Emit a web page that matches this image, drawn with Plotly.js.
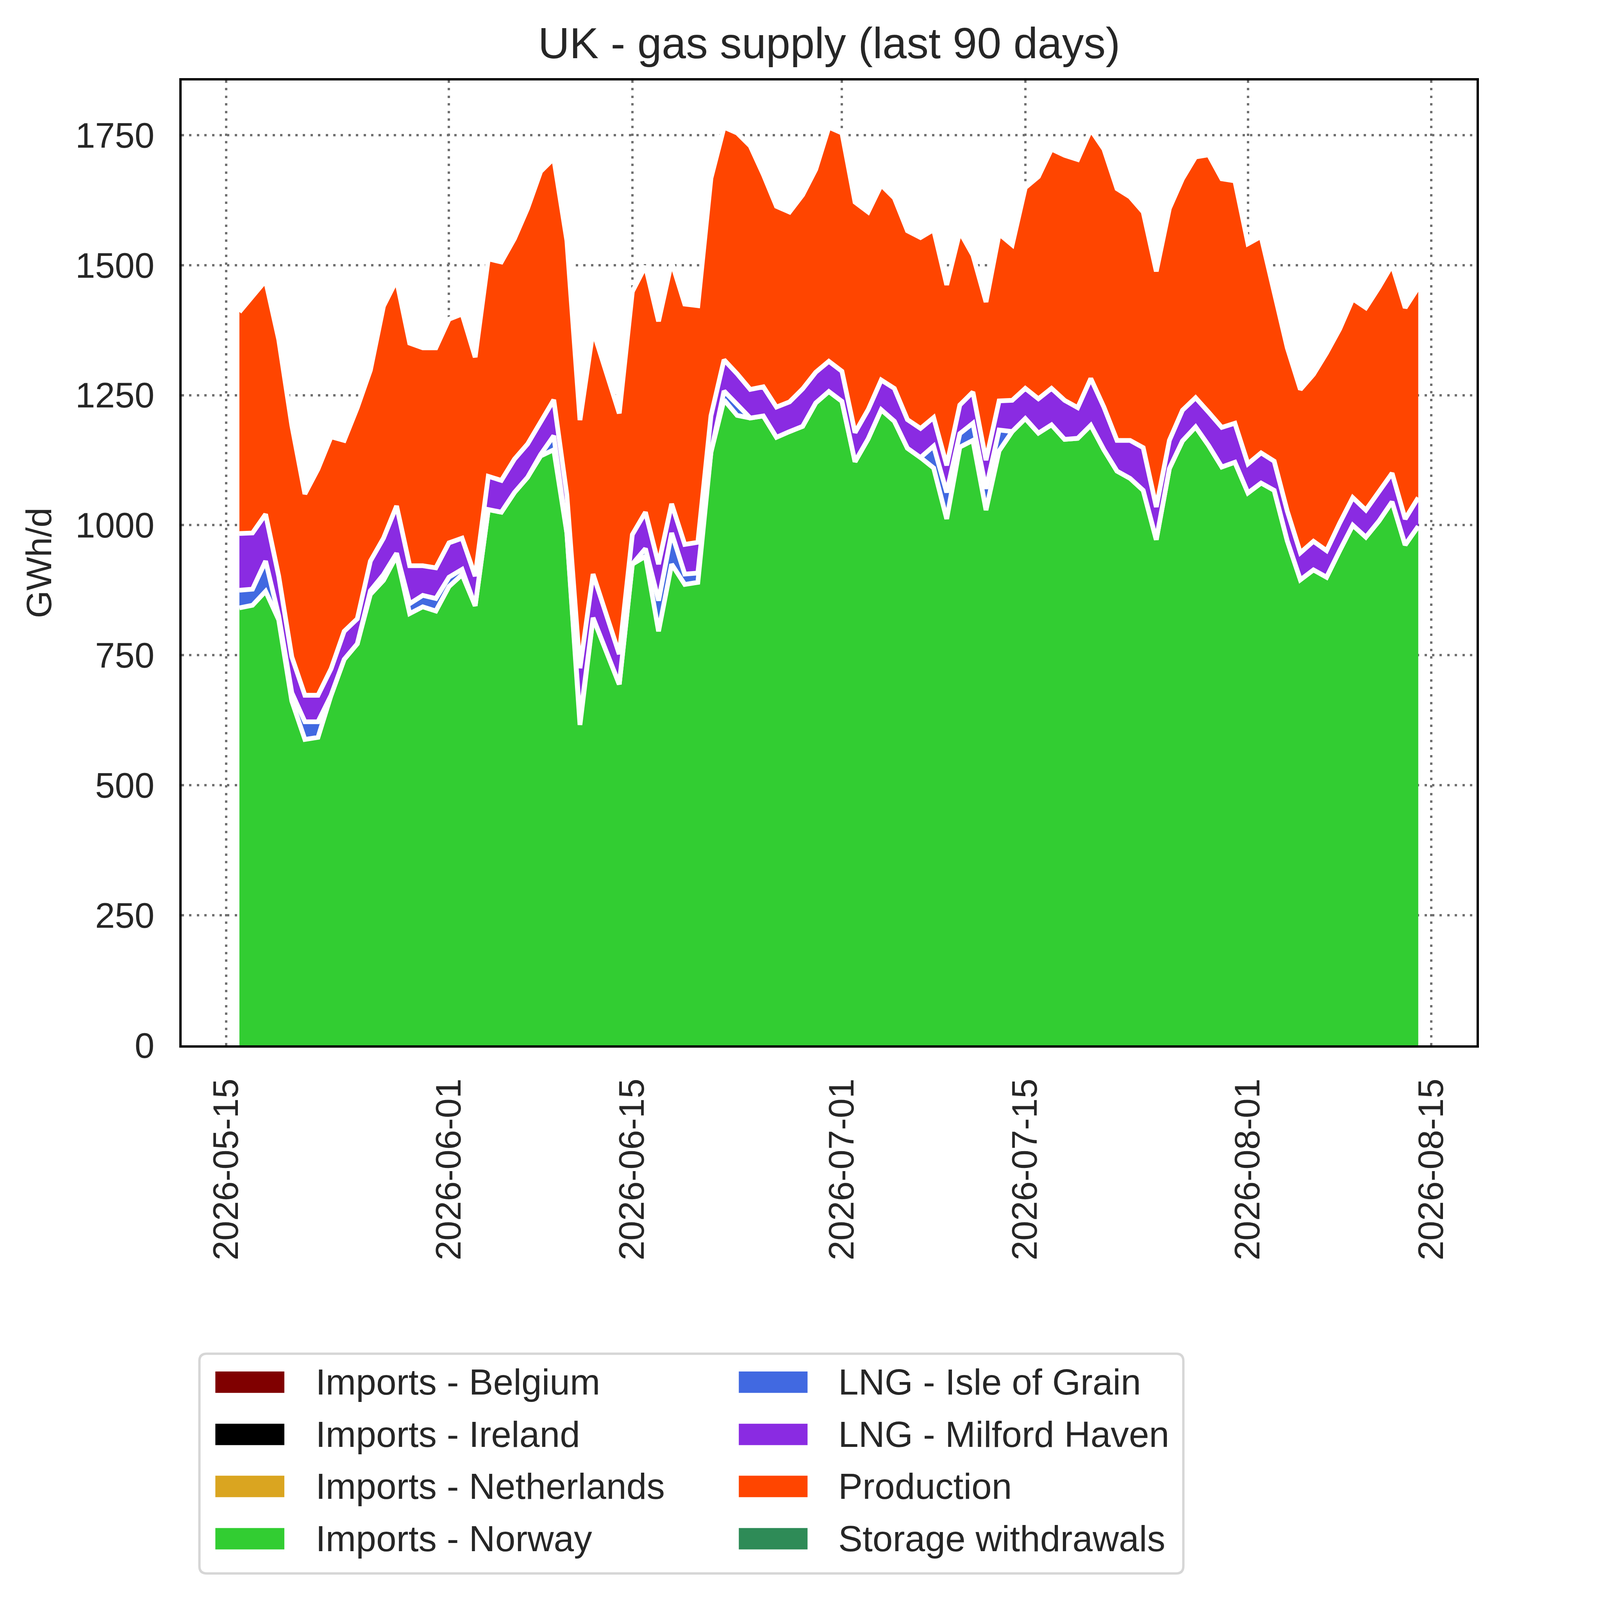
<!DOCTYPE html>
<html>
<head>
<meta charset="utf-8">
<script src="https://cdn.plot.ly/plotly-3.0.1.min.js"></script>
<style>html,body{margin:0;padding:0;background:#fff;overflow:hidden;}</style>
</head>
<body>
<div id="chart"></div>
<script>
// ---------------- data ----------------
const dates = [
 '2026-05-16','2026-05-17','2026-05-18','2026-05-19','2026-05-20','2026-05-21','2026-05-22','2026-05-23','2026-05-24','2026-05-25','2026-05-26','2026-05-27','2026-05-28','2026-05-29','2026-05-30','2026-05-31',
 '2026-06-01','2026-06-02','2026-06-03','2026-06-04','2026-06-05','2026-06-06','2026-06-07','2026-06-08','2026-06-09','2026-06-10','2026-06-11','2026-06-12','2026-06-13','2026-06-14','2026-06-15','2026-06-16','2026-06-17','2026-06-18','2026-06-19','2026-06-20','2026-06-21','2026-06-22','2026-06-23','2026-06-24','2026-06-25','2026-06-26','2026-06-27','2026-06-28','2026-06-29','2026-06-30',
 '2026-07-01','2026-07-02','2026-07-03','2026-07-04','2026-07-05','2026-07-06','2026-07-07','2026-07-08','2026-07-09','2026-07-10','2026-07-11','2026-07-12','2026-07-13','2026-07-14','2026-07-15','2026-07-16','2026-07-17','2026-07-18','2026-07-19','2026-07-20','2026-07-21','2026-07-22','2026-07-23','2026-07-24','2026-07-25','2026-07-26','2026-07-27','2026-07-28','2026-07-29','2026-07-30','2026-07-31',
 '2026-08-01','2026-08-02','2026-08-03','2026-08-04','2026-08-05','2026-08-06','2026-08-07','2026-08-08','2026-08-09','2026-08-10','2026-08-11','2026-08-12','2026-08-13','2026-08-14'
];

const seriesNames = ['Imports - Belgium','Imports - Ireland','Imports - Netherlands','Imports - Norway',
                     'LNG - Isle of Grain','LNG - Milford Haven','Production','Storage withdrawals'];
const seriesColors = ['#800000','#000000','#DAA520','#32CD32','#4169E1','#8A2BE2','#FF4500','#2E8B57'];

const belgium     = new Array(91).fill(0);
const ireland     = new Array(91).fill(0);
const netherlands = new Array(91).fill(0);
const storage     = new Array(91).fill(0);

const norway = [
 841,846,873,818,662,588,592,673,742,772,867,894,941,830,843,835,
 882,905,845,1030,1025,1063,1092,1133,1145,985,616,822,758,694,925,940,796,925,886,890,1140,1241,1211,1206,1210,1169,1180,1190,1235,1257,
 1238,1122,1166,1222,1200,1148,1130,1110,1012,1150,1163,1029,1143,1180,1205,1177,1193,1165,1167,1192,1145,1104,1090,1067,972,1109,1162,1189,1153,1112,1121,
 1062,1081,1067,970,895,914,900,951,1000,977,1008,1045,962,998
];
const isleOfGrain = [
 34,31,58,8,16,34,30,0,0,0,7,11,5,19,22,24,
 18,10,0,0,0,0,0,3,27,0,10,0,0,0,0,15,59,60,20,18,0,17,21,0,0,0,0,0,0,0,
 0,0,0,0,0,0,0,42,51,26,33,41,40,0,0,0,0,0,0,0,0,0,0,0,0,0,0,0,0,0,0,
 0,0,0,0,0,0,0,0,0,0,0,0,0,0
];
const milfordHaven = [
 109,108,90,76,69,51,51,51,54,48,57,70,91,73,57,59,
 66,60,57,64,61,64,64,64,69,73,99,84,70,58,57,70,70,56,57,59,70,60,59,55,56,58,57,72,59,58,
 58,56,56,57,63,55,56,55,52,55,60,55,56,60,58,66,70,75,59,90,82,59,73,82,63,54,59,56,64,76,75,
 56,58,56,57,52,55,51,53,53,52,57,55,50,55
];
const production = [
 426,455,449,455,445,387,435,446,367,406,367,446,434,428,419,423,
 430,431,421,418,420,424,453,480,464,489,477,468,466,463,467,473,467,465,462,455,457,447,463,468,408,386,365,373,390,450,
 458,443,380,375,366,363,367,361,347,333,263,304,321,299,386,427,460,471,477,478,496,484,468,453,453,446,445,463,495,478,466,
 423,416,326,314,314,321,380,373,382,389,392,400,406,404
];

const seriesValues = [belgium, ireland, netherlands, norway, isleOfGrain, milfordHaven, production, storage];

const xTickVals = ['2026-05-15','2026-06-01','2026-06-15','2026-07-01','2026-07-15','2026-08-01','2026-08-15'];
const yTickVals = [0,250,500,750,1000,1250,1500,1750];

// ---------------- geometry (reference pixels, scaled to the viewport) ----------------
const W = 5752, H = 6123;
const s = Math.min(window.innerWidth / W, window.innerHeight / H) || 1;
const S = v => v * s;
const L = 695, R = 5650, T = 308, B = 4000;
const FONT = 'Liberation Sans, Arial, Helvetica, sans-serif';
const TXT = '#262626';
const px2x = p => (p - L) / (R - L);
const py2y = p => (B - p) / (B - T);

// ---------------- traces ----------------
const traces = seriesNames.map((name, i) => {
  const zeroSeries = seriesValues[i].every(v => v === 0);
  return {
    type: 'scatter',
    mode: 'lines',
    x: dates,
    y: seriesValues[i],
    name: name,
    stackgroup: 'supply',
    fillcolor: seriesColors[i],
    line: {color: '#ffffff', width: zeroSeries ? 0 : S(18), shape: 'linear'},
    hoverinfo: 'x+y+name'
  };
});

// ---------------- custom legend (shapes + annotations) ----------------
const shapes = [];
const annotations = [];
const fl = 763, fr = 4528, ft = 5180, fb = 6021, rad = 28;
const rx = rad / (R - L), ry = rad / (B - T);
const X0 = px2x(fl), X1 = px2x(fr), Y0 = py2y(ft), Y1 = py2y(fb);
shapes.push({
  type: 'path', xref: 'paper', yref: 'paper',
  path: `M ${X0+rx},${Y0} L ${X1-rx},${Y0} Q ${X1},${Y0} ${X1},${Y0-ry} L ${X1},${Y1+ry} Q ${X1},${Y1} ${X1-rx},${Y1} L ${X0+rx},${Y1} Q ${X0},${Y1} ${X0},${Y1+ry} L ${X0},${Y0-ry} Q ${X0},${Y0} ${X0+rx},${Y0} Z`,
  line: {color: '#d6d6d6', width: S(9)},
  fillcolor: 'rgba(255,255,255,0.8)'
});
const rowC = [5289, 5489, 5688, 5888];
const colSw = [[824, 1088], [2827, 3090]];
const colTx = [1205, 3204];
seriesNames.forEach((name, i) => {
  const col = Math.floor(i / 4), row = i % 4;
  const c = rowC[row];
  shapes.push({
    type: 'rect', xref: 'paper', yref: 'paper',
    x0: px2x(colSw[col][0]), x1: px2x(colSw[col][1]),
    y0: py2y(c - 41), y1: py2y(c + 41),
    line: {width: 0}, fillcolor: seriesColors[i]
  });
  annotations.push({
    xref: 'paper', yref: 'paper', x: px2x(colTx[col]), y: py2y(c),
    xanchor: 'left', yanchor: 'middle', showarrow: false,
    text: name, font: {family: FONT, size: S(139), color: TXT}
  });
});

// ---------------- layout ----------------
const gridStyle = {
  showgrid: true, gridcolor: '#707070', gridwidth: S(9), griddash: `${S(9)}px,${S(20)}px`,
  showline: true, linecolor: '#000000', linewidth: S(9), mirror: true,
  zeroline: false,
  ticks: 'outside', tickcolor: 'rgba(0,0,0,0)', tickwidth: 1,
  tickfont: {family: FONT, size: S(136), color: TXT}
};

const layout = {
  width: S(W), height: S(H),
  margin: {l: S(L), r: S(W - R), t: S(T), b: S(H - B), pad: 0},
  paper_bgcolor: '#ffffff', plot_bgcolor: '#ffffff',
  showlegend: false,
  font: {family: FONT, size: S(136), color: TXT},
  title: {
    text: 'UK - gas supply (last 90 days)',
    font: {family: FONT, size: S(167), color: TXT},
    xref: 'paper', x: 0.5, xanchor: 'center',
    yref: 'container', y: 1 - 165 / H, yanchor: 'middle'
  },
  xaxis: Object.assign({}, gridStyle, {
    type: 'date',
    range: ['2026-05-11 14:10', '2026-08-18 10:50'],
    tickmode: 'array', tickvals: xTickVals, ticktext: xTickVals,
    tickangle: -90, automargin: false, ticklen: S(64)
  }),
  yaxis: Object.assign({}, gridStyle, {
    range: [0, 1855],
    tickmode: 'array', tickvals: yTickVals, ticktext: yTickVals.map(String),
    automargin: false, ticklen: S(68),
    title: {text: 'GWh/d', font: {family: FONT, size: S(136), color: TXT}, standoff: S(49)}
  }),
  shapes: shapes,
  annotations: annotations,
  hovermode: false
};

Plotly.newPlot('chart', traces, layout, {displayModeBar: false, staticPlot: true});
</script>
</body>
</html>
